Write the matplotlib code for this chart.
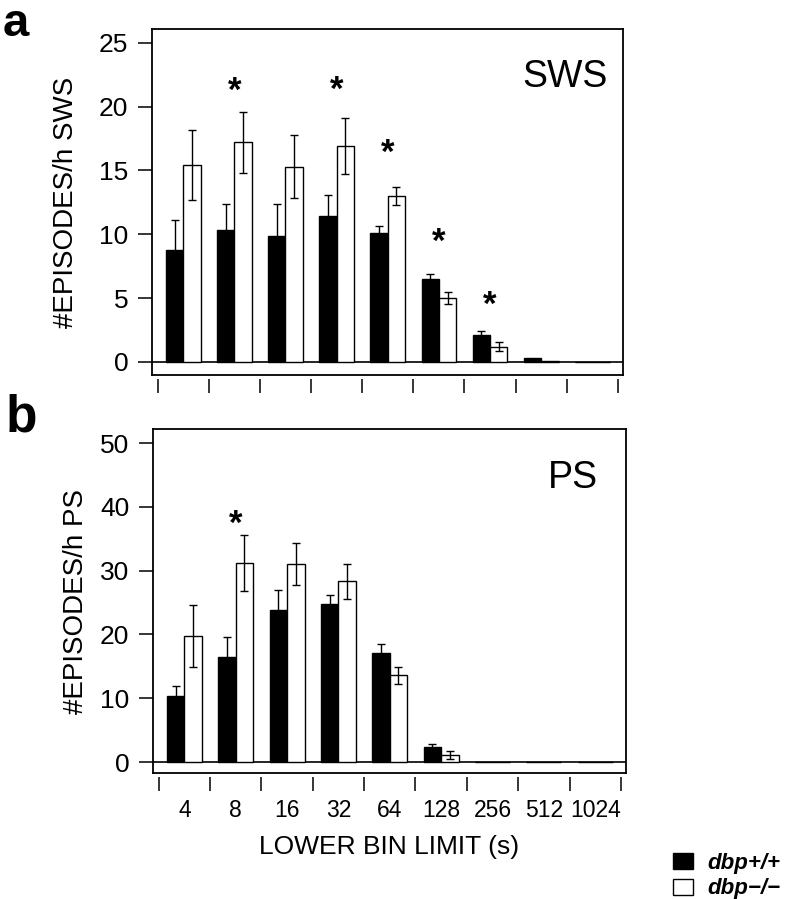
import numpy as np
import matplotlib
matplotlib.use('Agg')
import matplotlib.pyplot as plt
from matplotlib.patches import Patch

plt.rcParams['font.family'] = ['Liberation Sans', 'DejaVu Sans']

# lower bin limits (s)
bins = ['4', '8', '16', '32', '64', '128', '256', '512', '1024']

# SWS episodes / h
sws_wt = [8.8, 10.3, 9.9, 11.4, 10.1, 6.5, 2.1, 0.3, 0.0]
sws_wt_err = [2.3, 2.1, 2.45, 1.7, 0.55, 0.4, 0.3, 0.0, 0.0]
sws_ko = [15.4, 17.2, 15.3, 16.9, 13.0, 5.0, 1.2, 0.1, 0.0]
sws_ko_err = [2.75, 2.4, 2.5, 2.2, 0.7, 0.5, 0.35, 0.0, 0.0]
sws_star_bins = [1, 3, 4, 5, 6]
sws_star_y = [21.7, 21.8, 16.9, 9.9, 5.0]

# PS episodes / h
ps_wt = [10.3, 16.5, 23.8, 24.7, 17.1, 2.4, 0.0, 0.0, 0.0]
ps_wt_err = [1.6, 3.1, 3.2, 1.5, 1.4, 0.4, 0.0, 0.0, 0.0]
ps_ko = [19.75, 31.2, 31.1, 28.3, 13.6, 1.1, 0.0, 0.0, 0.0]
ps_ko_err = [4.9, 4.4, 3.3, 2.7, 1.3, 0.7, 0.0, 0.0, 0.0]
ps_star_bins = [1]
ps_star_y = [38.4]

labels = ['dbp+/+', 'dbp\u2212/\u2212']

W, H = 790, 899
fig = plt.figure(figsize=(W / 100, H / 100), dpi=100)


def panel(rect, wt, wt_err, ko, ko_err, star_bins, star_y, ylim, yticks,
          ylabel, tag, tag_pos, lab_x, show_x):
    ax = fig.add_axes(rect)
    x = np.arange(len(bins))
    bw = 0.34
    ax.bar(x + 0.5 - bw, wt, bw, align='edge', color='black',
           edgecolor='black', linewidth=1.0, zorder=2)
    ax.bar(x + 0.5, ko, bw, align='edge', color='white',
           edgecolor='black', linewidth=1.0, zorder=2)
    wt_err = np.array(wt_err)
    ko_err = np.array(ko_err)
    m = wt_err > 0
    ax.errorbar((x + 0.5 - bw / 2)[m], np.array(wt)[m], yerr=wt_err[m],
                fmt='none', ecolor='black', elinewidth=1.0, capsize=3.2,
                capthick=1.0, zorder=3)
    m = ko_err > 0
    ax.errorbar((x + 0.5 + bw / 2)[m], np.array(ko)[m], yerr=ko_err[m],
                fmt='none', ecolor='black', elinewidth=1.0, capsize=3.2,
                capthick=1.0, zorder=3)
    # asterisk glyph sits high in its line box, so nudge it down a little
    for b, y in zip(star_bins, star_y):
        ax.annotate('*', (b + 0.5, y), xytext=(0, -5), textcoords='offset points',
                    ha='center', va='center', fontsize=25, fontweight='bold')
    ax.axhline(0, color='black', linewidth=1.2, zorder=1)
    ax.set_xlim(-0.11, 9.1)
    ax.set_ylim(*ylim)
    ax.axhline(ylim[0], color='black', linewidth=1.3, clip_on=False)

    for s in ['top', 'left', 'right']:
        ax.spines[s].set_linewidth(1.3)
    ax.spines['bottom'].set_position(('outward', 3))
    ax.spines['bottom'].set_color('none')

    ax.set_xticks(np.arange(len(bins) + 1))
    ax.set_xticklabels([])
    ax.set_xticks(x + 0.5, minor=True)
    ax.tick_params(axis='x', which='major', length=10, width=1.1,
                   direction='out')
    ax.tick_params(axis='x', which='minor', length=0, pad=16)
    if show_x:
        ax.set_xticklabels(bins, minor=True, fontsize=16.5)
        ax.set_xlabel('LOWER BIN LIMIT (s)', fontsize=19, labelpad=9)

    ax.set_yticks(yticks)
    ax.tick_params(axis='y', length=10, width=1.1, pad=7, labelsize=19)
    ax.set_ylabel(ylabel, fontsize=20)
    ax.yaxis.set_label_coords(lab_x, 0.5)

    ax.text(tag_pos[0], tag_pos[1], tag, transform=ax.transAxes,
            ha='right', va='baseline', fontsize=27)
    return ax


# panel a
axa = panel([152 / W, 1 - 375 / H, 471 / W, 346 / H],
            sws_wt, sws_wt_err, sws_ko, sws_ko_err, sws_star_bins, sws_star_y,
            (-1.02, 26.07), [0, 5, 10, 15, 20, 25], '#EPISODES/h SWS',
            'SWS', (0.968, 0.833), -0.155, False)

# panel b
axb = panel([153 / W, 1 - 773 / H, 473 / W, 344 / H],
            ps_wt, ps_wt_err, ps_ko, ps_ko_err, ps_star_bins, ps_star_y,
            (-1.72, 52.2), [0, 10, 20, 30, 40, 50], '#EPISODES/h PS',
            'PS', (0.941, 0.828), -0.135, True)

fig.text(3 / W, 1 - 36 / H, 'a', fontsize=34, fontweight='bold',
         ha='left', va='baseline')
fig.text(6 / W, 1 - 432 / H, 'b', fontsize=37, fontweight='bold',
         ha='left', va='baseline')

handles = [Patch(facecolor='black', edgecolor='black', linewidth=1.0),
           Patch(facecolor='white', edgecolor='black', linewidth=1.0)]
fig.legend(handles, labels, loc='upper left', bbox_to_anchor=(673 / W, 1 - 853 / H),
           frameon=False, borderpad=0, borderaxespad=0, handlelength=0.9,
           handleheight=0.75, handletextpad=0.65, labelspacing=0.2,
           prop={'size': 16, 'style': 'italic', 'weight': 'bold'})

fig.savefig('out.png', dpi=100)
